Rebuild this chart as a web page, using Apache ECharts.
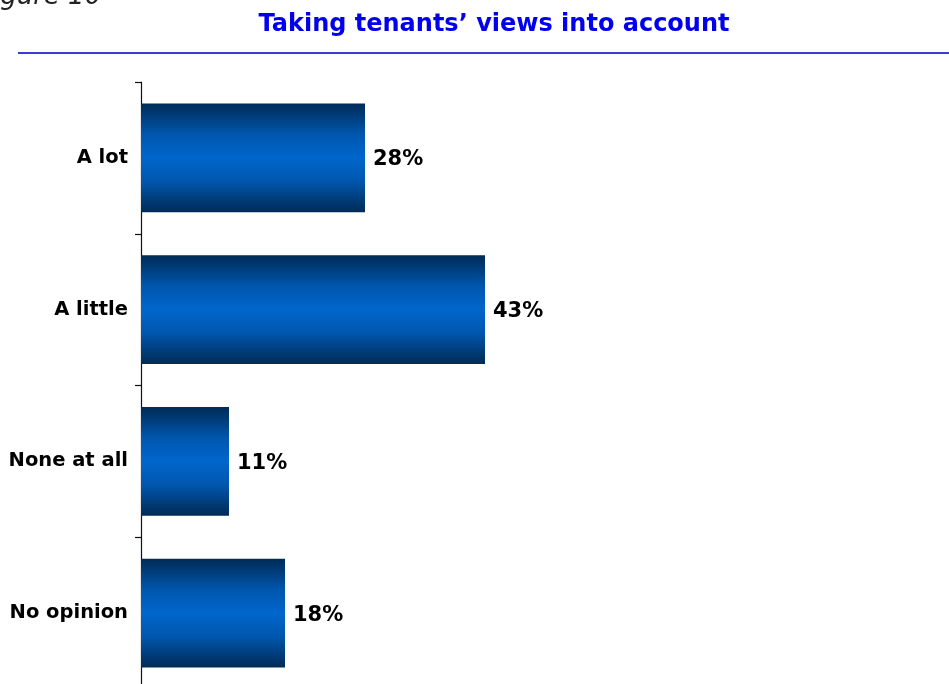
<!DOCTYPE html>
<html>
<head>
<meta charset="utf-8">
<style>
  html, body { margin: 0; padding: 0; background: #ffffff; }
  #chart { width: 949px; height: 684px; }
</style>
<script src="https://cdn.jsdelivr.net/npm/echarts@6/dist/echarts.min.js"></script>
</head>
<body>
<div id="chart"></div>
<script>
// Answers, top to bottom
const categories = ['A lot', 'A little', 'None at all', 'No opinion'];
// Share of respondents (%)
const shares = [28, 43, 11, 18];

const chart = echarts.init(document.getElementById('chart'), null, { renderer: 'canvas' });

// Dark-edged, bright-centred band across each bar
const barFill = new echarts.graphic.LinearGradient(0, 0, 0, 1, [
  { offset: 0.00, color: '#002b57' },
  { offset: 0.12, color: '#003d7a' },
  { offset: 0.28, color: '#0056ad' },
  { offset: 0.50, color: '#0066cc' },
  { offset: 0.72, color: '#0056ad' },
  { offset: 0.88, color: '#003d7a' },
  { offset: 1.00, color: '#002b57' }
]);

chart.setOption({
  animation: false,
  backgroundColor: '#ffffff',
  title: {
    text: 'Taking tenants\u2019 views into account',
    left: 489,
    textAlign: 'center',
    top: 8,
    textStyle: {
      fontFamily: 'DejaVu Sans',
      fontWeight: 'bold',
      fontSize: 24,
      color: '#0000ee'
    }
  },
  graphic: [
    {
      type: 'text',
      x: -22,
      y: 10,
      style: {
        text: 'Figure 10',
        font: 'italic 26px "DejaVu Sans"',
        fill: '#222222',
        verticalAlign: 'bottom'
      }
    },
    {
      type: 'line',
      shape: { x1: 18, y1: 53, x2: 949, y2: 53 },
      style: { stroke: '#3a3ad8', lineWidth: 2 }
    }
  ],
  grid: {
    left: 141,
    top: 82,
    width: 800,
    height: 607,
    containLabel: false,
    outerBoundsMode: 'none'
  },
  xAxis: {
    type: 'value',
    min: 0,
    max: 100,
    show: false
  },
  yAxis: {
    type: 'category',
    data: categories,
    inverse: true,
    axisLine: { show: true, lineStyle: { color: '#111111', width: 1.2 } },
    axisTick: { show: true, inside: false, length: 6, lineStyle: { color: '#111111', width: 1.2 } },
    axisLabel: {
      margin: 13,
      padding: [3, 0, 0, 0],
      fontFamily: 'DejaVu Sans',
      fontWeight: 'bold',
      fontSize: 19.5,
      color: '#000000'
    },
    splitLine: { show: false }
  },
  series: [
    {
      type: 'bar',
      data: shares,
      barWidth: '71.5%',
      itemStyle: { color: barFill },
      label: {
        show: true,
        position: 'right',
        distance: 8,
        offset: [0, 2],
        formatter: '{c}%',
        fontFamily: 'DejaVu Sans',
        fontWeight: 'bold',
        fontSize: 21,
        color: '#000000'
      }
    }
  ]
});
</script>
</body>
</html>
